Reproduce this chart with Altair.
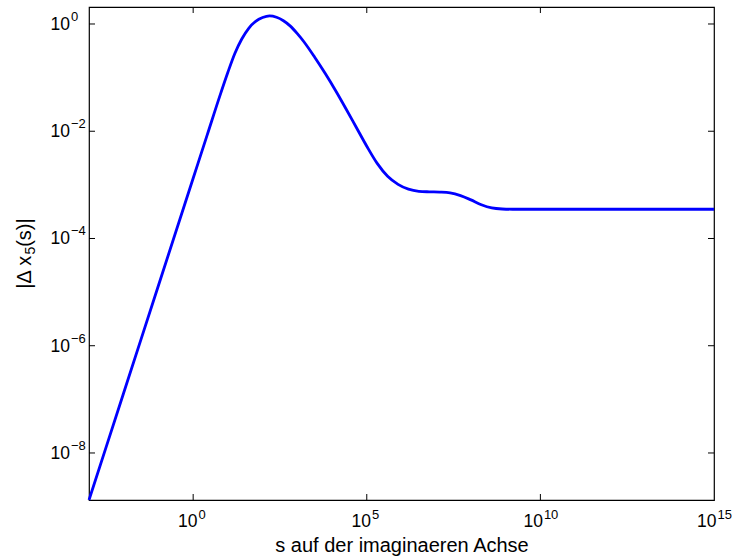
import altair as alt
import pandas as pd

# values (log10 of s and of |Δx5(s)|)
log_s = [-3, -2, -1, 0, 0.4, 0.8, 1.0, 1.2, 1.4, 1.6, 1.8, 2.0, 2.2, 2.4, 2.6, 2.8,
         3.0, 3.2, 3.5, 3.8, 4.1, 4.4, 4.7, 5.0, 5.3, 5.6, 5.9, 6.2, 6.5, 6.8,
         7.1, 7.4, 7.7, 8.0, 8.3, 8.6, 8.9, 9.2, 10, 12, 15]
log_dx = [-8.877, -6.877, -4.877, -2.877, -2.077, -1.28, -0.90, -0.55, -0.28, -0.08,
          0.05, 0.12, 0.15, 0.125, 0.06, -0.04, -0.18, -0.34, -0.62, -0.92, -1.24,
          -1.58, -1.93, -2.28, -2.60, -2.84, -2.99, -3.08, -3.12, -3.13, -3.135,
          -3.15, -3.20, -3.28, -3.37, -3.43, -3.45, -3.455, -3.455, -3.455, -3.455]

# tick labels: base "10" with exponent
x_tick_exp_1 = [0, 5]        # one-digit exponents
x_tick_exp_2 = [10, 15]      # two-digit exponents
y_tick_exp = [-8, -6, -4, -2, 0]
x_inner_exp = [0, 5, 10]

x_title = "s auf der imaginaeren Achse"
y_title_parts = ["|Δ x", "5", "(s)|"]   # "|Δ x₅(s)|" with subscript 5


def exp_text(e):
    return str(e).replace('-', '\u2212')


df = pd.DataFrame({'s': [10 ** v for v in log_s], 'dx': [10 ** v for v in log_dx]})
xt = pd.DataFrame({'s': [10.0 ** e for e in x_inner_exp]})
yt = pd.DataFrame({'dx': [10.0 ** e for e in y_tick_exp]})
xl1 = pd.DataFrame({'s': [10.0 ** e for e in x_tick_exp_1], 'base': ['10'] * len(x_tick_exp_1),
                    'exp': [exp_text(e) for e in x_tick_exp_1]})
xl2 = pd.DataFrame({'s': [10.0 ** e for e in x_tick_exp_2], 'base': ['10'] * len(x_tick_exp_2),
                    'exp': [exp_text(e) for e in x_tick_exp_2]})
yl = pd.DataFrame({'dx': [10.0 ** e for e in y_tick_exp], 'base': ['10'] * len(y_tick_exp),
                   'exp': [exp_text(e) for e in y_tick_exp]})

W, H = 625, 493
FONT = 'Liberation Sans'
TICK = 6
BASE_FS = 17.5
EXP_FS = 13
TITLE_FS = 20
SUB_FS = 14

xscale = alt.Scale(type='log', domain=[1e-3, 1e15], nice=False)
yscale = alt.Scale(type='log', domain=[10 ** -8.877, 10 ** 0.317], nice=False)

x_axis = alt.Axis(ticks=False, domain=False, grid=False, labels=False,
                  title=x_title, titleFont=FONT, titleFontSize=TITLE_FS,
                  titleFontWeight='normal', titleColor='black',
                  titleBaseline='alphabetic', titleAlign='center', titleX=W / 2, titleY=51)
y_axis = alt.Axis(ticks=False, domain=False, grid=False, labels=False, title='')

line = alt.Chart(df).mark_line(color='#0000ff', strokeWidth=2.8, interpolate='monotone').encode(
    x=alt.X('s:Q', scale=xscale, axis=x_axis),
    y=alt.Y('dx:Q', scale=yscale, axis=y_axis),
)

bottom_ticks = alt.Chart(xt).mark_rule(color='black', strokeWidth=1).encode(
    x=alt.X('s:Q', scale=xscale, axis=x_axis), y=alt.value(H), y2=alt.value(H - TICK))
top_ticks = alt.Chart(xt).mark_rule(color='black', strokeWidth=1).encode(
    x=alt.X('s:Q', scale=xscale, axis=x_axis), y=alt.value(0), y2=alt.value(TICK))
left_ticks = alt.Chart(yt).mark_rule(color='black', strokeWidth=1).encode(
    y=alt.Y('dx:Q', scale=yscale, axis=y_axis), x=alt.value(0), x2=alt.value(TICK))
right_ticks = alt.Chart(yt).mark_rule(color='black', strokeWidth=1).encode(
    y=alt.Y('dx:Q', scale=yscale, axis=y_axis), x=alt.value(W), x2=alt.value(W - TICK))


def x_labels(data, shift):
    base = alt.Chart(data).mark_text(font=FONT, fontSize=BASE_FS, color='black', align='right',
                                     baseline='alphabetic', dx=shift).encode(
        x=alt.X('s:Q', scale=xscale, axis=x_axis), y=alt.value(H + 27), text='base:N')
    sup = alt.Chart(data).mark_text(font=FONT, fontSize=EXP_FS, color='black', align='left',
                                    baseline='alphabetic', dx=shift + 1).encode(
        x=alt.X('s:Q', scale=xscale, axis=x_axis), y=alt.value(H + 18.6), text='exp:N')
    return [base, sup]


y_base = alt.Chart(yl).mark_text(font=FONT, fontSize=BASE_FS, color='black', align='right',
                                 baseline='alphabetic', dy=6).encode(
    y=alt.Y('dx:Q', scale=yscale, axis=y_axis), x=alt.value(-19), text='base:N')
y_sup = alt.Chart(yl).mark_text(font=FONT, fontSize=EXP_FS, color='black', align='left',
                                baseline='alphabetic', dy=-3).encode(
    y=alt.Y('dx:Q', scale=yscale, axis=y_axis), x=alt.value(-18), text='exp:N')

# rotated y title built from three pieces (normal, subscript, normal)
w1 = (0.26 + 0.668 + 0.278 + 0.5) * TITLE_FS
w2 = 0.556 * SUB_FS
w3 = (0.333 + 0.5 + 0.333 + 0.26) * TITLE_FS
start = H / 2 + (w1 + w2 + w3) / 2
TX = -58
yt1 = alt.Chart(pd.DataFrame({'t': [y_title_parts[0]]})).mark_text(
    font=FONT, fontSize=TITLE_FS, color='black', align='left', baseline='alphabetic', angle=270).encode(
    x=alt.value(TX), y=alt.value(start), text='t:N')
yt2 = alt.Chart(pd.DataFrame({'t': [y_title_parts[1]]})).mark_text(
    font=FONT, fontSize=SUB_FS, color='black', align='left', baseline='alphabetic', angle=270).encode(
    x=alt.value(TX + 4), y=alt.value(start - w1), text='t:N')
yt3 = alt.Chart(pd.DataFrame({'t': [y_title_parts[2]]})).mark_text(
    font=FONT, fontSize=TITLE_FS, color='black', align='left', baseline='alphabetic', angle=270).encode(
    x=alt.value(TX), y=alt.value(start - w1 - w2), text='t:N')

chart = alt.layer(line, bottom_ticks, top_ticks, left_ticks, right_ticks,
                  *x_labels(xl1, 4.3), *x_labels(xl2, 2.5), y_base, y_sup,
                  yt1, yt2, yt3).properties(
    width=W, height=H,
    autosize=alt.AutoSizeParams(type='none'),
    padding={'left': 89, 'top': 7, 'right': 18, 'bottom': 57},
    background='white',
).configure(font=FONT).configure_view(stroke='black', strokeWidth=1.2)

chart.save("out.html", embed_options={"renderer": "svg", "actions": False})
